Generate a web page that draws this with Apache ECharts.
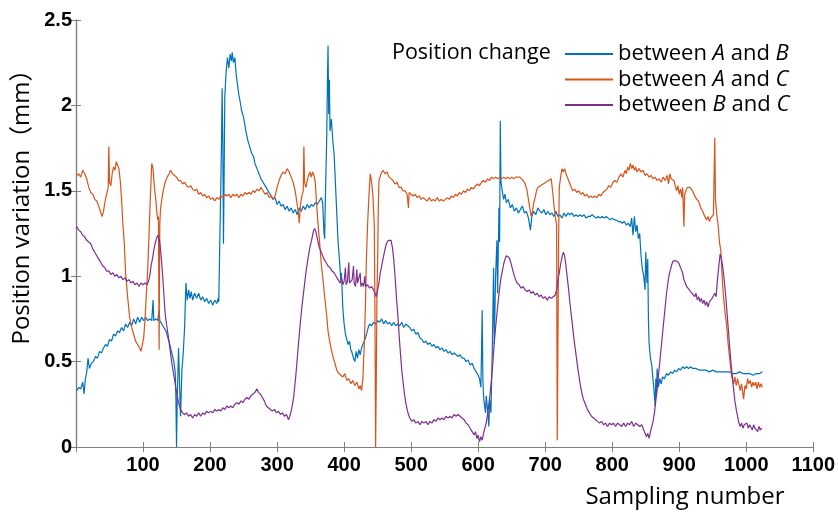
<!DOCTYPE html>
<html>
<head>
<meta charset="utf-8">
<script src="https://cdn.jsdelivr.net/npm/echarts@6/dist/echarts.min.js"></script>
<style>html,body{margin:0;padding:0;background:#fff;}#c{width:838px;height:513px;}</style>
</head>
<body>
<div id="c"></div>
<script>
var seriesNames = ['between A and B', 'between A and C', 'between B and C'];
var legendTitle = 'Position change';
var xName = 'Sampling number';
var yName = 'Position variation（mm）';

var abData = [[1,0.33],[4,0.35],[7,0.34],[10,0.38],[12,0.31],[14,0.40],[16,0.44],[18,0.52],[20,0.46],[23,0.49],[26,0.50],[29,0.53],[32,0.52],[35,0.56],[38,0.55],[41,0.58],[44,0.60],[47,0.59],[50,0.63],[53,0.62],[56,0.66],[59,0.65],[62,0.68],[65,0.67],[68,0.70],[71,0.68],[74,0.72],[77,0.70],[80,0.73],[83,0.71],[86,0.75],[89,0.72],[92,0.76],[95,0.73],[98,0.76],[101,0.74],[104,0.76],[107,0.74],[110,0.75],[113,0.74],[115,0.86],[116,0.74],[119,0.75],[122,0.74],[124,0.80],[125,0.74],[128,0.72],[131,0.70],[134,0.68],[137,0.64],[140,0.60],[143,0.55],[146,0.50],[148,0.44],[149,0.30],[150,0.00],[151,0.28],[153,0.58],[155,0.30],[156,0.18],[158,0.45],[160,0.55],[162,0.70],[164,0.96],[166,0.86],[168,0.92],[170,0.87],[172,0.91],[174,0.86],[177,0.90],[180,0.87],[183,0.90],[186,0.86],[189,0.88],[192,0.85],[195,0.87],[198,0.84],[201,0.86],[204,0.83],[207,0.86],[210,0.84],[212,0.87],[213,0.85],[215,1.30],[217,1.75],[218,2.10],[219,1.80],[220,1.19],[221,1.60],[222,2.05],[224,2.20],[226,2.28],[228,2.22],[230,2.30],[232,2.26],[233,2.31],[235,2.25],[237,2.28],[239,2.18],[241,2.12],[243,2.06],[245,2.02],[247,1.97],[250,1.93],[253,1.86],[256,1.80],[259,1.76],[262,1.72],[265,1.70],[267,1.66],[270,1.63],[273,1.60],[276,1.57],[279,1.55],[282,1.53],[285,1.51],[288,1.49],[291,1.47],[294,1.45],[297,1.46],[300,1.42],[303,1.44],[306,1.41],[309,1.42],[312,1.39],[315,1.41],[318,1.38],[321,1.40],[324,1.37],[327,1.39],[330,1.36],[333,1.40],[336,1.38],[339,1.41],[342,1.39],[345,1.42],[348,1.40],[351,1.42],[354,1.41],[357,1.43],[360,1.42],[363,1.44],[366,1.46],[368,1.43],[370,1.25],[371,1.22],[372,1.45],[374,1.80],[375,2.10],[376,2.35],[377,1.95],[378,2.15],[379,1.85],[381,1.92],[383,1.80],[385,1.72],[387,1.55],[389,1.37],[391,1.20],[393,1.10],[395,0.98],[396,1.02],[398,0.82],[400,0.72],[402,0.66],[404,0.63],[406,0.60],[408,0.62],[410,0.57],[412,0.55],[414,0.52],[416,0.50],[418,0.56],[420,0.52],[422,0.57],[424,0.54],[426,0.58],[428,0.60],[430,0.61],[432,0.64],[434,0.67],[436,0.70],[438,0.72],[441,0.71],[444,0.73],[447,0.72],[450,0.74],[453,0.73],[456,0.75],[459,0.72],[462,0.74],[465,0.72],[468,0.73],[471,0.71],[474,0.73],[477,0.71],[480,0.72],[483,0.71],[486,0.73],[489,0.70],[492,0.72],[495,0.71],[498,0.70],[501,0.68],[504,0.69],[507,0.66],[510,0.67],[513,0.64],[516,0.63],[519,0.61],[522,0.62],[525,0.60],[528,0.61],[531,0.59],[534,0.60],[537,0.58],[540,0.59],[543,0.57],[546,0.58],[549,0.56],[552,0.57],[555,0.55],[558,0.56],[561,0.54],[564,0.55],[567,0.54],[570,0.53],[573,0.54],[576,0.52],[579,0.52],[582,0.50],[585,0.51],[588,0.48],[591,0.49],[594,0.46],[597,0.44],[600,0.42],[602,0.40],[604,0.35],[605,0.55],[606,0.80],[607,0.40],[608,0.30],[609,0.26],[611,0.20],[612,0.30],[614,0.22],[616,0.12],[617,0.28],[619,0.20],[621,0.55],[623,1.05],[624,0.60],[626,1.00],[628,1.21],[629,0.90],[631,1.40],[632,1.20],[633,1.91],[634,1.55],[636,1.50],[638,1.45],[640,1.48],[642,1.43],[645,1.45],[648,1.40],[651,1.42],[654,1.38],[657,1.40],[660,1.37],[663,1.39],[666,1.41],[669,1.37],[672,1.38],[675,1.34],[678,1.27],[680,1.35],[683,1.38],[686,1.36],[689,1.40],[692,1.38],[695,1.37],[698,1.39],[701,1.36],[704,1.38],[707,1.36],[710,1.37],[713,1.35],[716,1.38],[719,1.35],[722,1.36],[725,1.34],[728,1.37],[731,1.35],[734,1.37],[737,1.36],[740,1.37],[743,1.35],[746,1.36],[749,1.35],[752,1.36],[755,1.35],[758,1.36],[761,1.34],[764,1.35],[767,1.35],[770,1.36],[773,1.35],[776,1.34],[779,1.35],[782,1.34],[785,1.35],[788,1.34],[791,1.35],[794,1.34],[797,1.33],[800,1.34],[803,1.33],[806,1.33],[809,1.32],[812,1.32],[815,1.31],[818,1.32],[821,1.30],[824,1.31],[827,1.29],[829,1.34],[831,1.24],[833,1.35],[835,1.26],[837,1.30],[839,1.22],[841,1.25],[843,1.12],[845,1.04],[847,1.00],[849,0.92],[850,1.14],[852,0.96],[853,1.10],[854,0.75],[855,0.61],[857,0.52],[859,0.48],[860,0.43],[862,0.35],[864,0.24],[865,0.40],[866,0.30],[867,0.46],[869,0.35],[871,0.40],[873,0.37],[875,0.41],[878,0.40],[881,0.43],[884,0.42],[887,0.44],[890,0.43],[893,0.45],[896,0.44],[899,0.46],[902,0.45],[905,0.47],[908,0.46],[911,0.47],[914,0.46],[917,0.47],[920,0.46],[925,0.46],[930,0.45],[935,0.45],[940,0.45],[945,0.44],[950,0.45],[955,0.44],[960,0.44],[965,0.44],[970,0.44],[975,0.44],[980,0.43],[985,0.43],[990,0.44],[995,0.43],[1000,0.43],[1005,0.43],[1010,0.42],[1015,0.43],[1020,0.43],[1024,0.44]];

var acData = [[1,1.59],[4,1.60],[7,1.58],[10,1.62],[13,1.60],[16,1.57],[19,1.52],[22,1.49],[25,1.48],[28,1.45],[31,1.44],[34,1.41],[37,1.37],[39,1.35],[41,1.38],[43,1.43],[45,1.47],[47,1.50],[48,1.52],[49,1.76],[50,1.55],[52,1.53],[54,1.60],[56,1.64],[58,1.62],[60,1.67],[62,1.68],[64,1.63],[66,1.56],[68,1.45],[70,1.30],[72,1.20],[74,1.02],[77,0.88],[80,0.76],[83,0.70],[86,0.66],[89,0.62],[92,0.60],[95,0.58],[97,0.56],[99,0.60],[101,0.64],[103,0.75],[105,0.90],[107,1.04],[109,1.25],[111,1.47],[113,1.66],[115,1.63],[117,1.52],[119,1.45],[121,1.36],[122,1.33],[123,1.35],[124,0.57],[125,1.30],[126,1.39],[128,1.45],[130,1.50],[133,1.55],[136,1.58],[139,1.60],[141,1.62],[144,1.60],[147,1.59],[150,1.58],[153,1.56],[156,1.56],[159,1.54],[162,1.55],[165,1.53],[168,1.52],[171,1.53],[174,1.51],[177,1.50],[180,1.51],[183,1.48],[186,1.49],[189,1.47],[192,1.48],[195,1.46],[198,1.47],[201,1.45],[204,1.46],[207,1.44],[210,1.46],[213,1.45],[216,1.47],[219,1.46],[222,1.48],[225,1.47],[228,1.48],[231,1.46],[234,1.48],[237,1.47],[240,1.48],[243,1.46],[246,1.48],[249,1.47],[252,1.49],[255,1.48],[258,1.49],[261,1.48],[264,1.50],[267,1.49],[270,1.51],[273,1.50],[276,1.52],[279,1.50],[282,1.48],[285,1.49],[288,1.46],[291,1.47],[294,1.45],[297,1.47],[300,1.52],[303,1.56],[306,1.59],[309,1.61],[312,1.60],[315,1.63],[318,1.61],[321,1.58],[324,1.55],[327,1.50],[330,1.42],[332,1.36],[333,1.31],[335,1.42],[337,1.47],[339,1.50],[340,1.76],[341,1.55],[343,1.52],[345,1.56],[347,1.59],[349,1.61],[351,1.58],[353,1.61],[355,1.59],[357,1.55],[359,1.42],[361,1.31],[363,1.22],[366,1.07],[369,0.96],[371,0.88],[374,0.77],[376,0.68],[378,0.63],[381,0.57],[384,0.52],[387,0.48],[389,0.45],[392,0.43],[395,0.42],[398,0.41],[401,0.43],[404,0.39],[407,0.40],[410,0.37],[413,0.39],[416,0.36],[419,0.38],[422,0.34],[424,0.36],[426,0.33],[428,0.40],[430,0.59],[432,0.85],[433,1.07],[435,1.30],[437,1.47],[439,1.60],[441,1.55],[443,1.47],[445,1.30],[446,0.80],[447,0.00],[448,0.40],[449,0.90],[450,1.07],[451,1.40],[452,1.56],[455,1.60],[458,1.62],[461,1.60],[464,1.61],[467,1.58],[470,1.57],[473,1.56],[476,1.54],[479,1.55],[482,1.52],[485,1.52],[488,1.50],[491,1.50],[494,1.48],[496,1.40],[497,1.49],[500,1.48],[503,1.47],[506,1.48],[509,1.46],[512,1.47],[515,1.45],[518,1.46],[521,1.45],[524,1.44],[527,1.46],[530,1.44],[533,1.45],[536,1.44],[539,1.46],[542,1.44],[545,1.45],[548,1.44],[551,1.45],[554,1.46],[557,1.45],[560,1.47],[563,1.46],[566,1.48],[569,1.47],[572,1.49],[575,1.48],[578,1.50],[581,1.49],[584,1.51],[587,1.50],[590,1.52],[593,1.51],[596,1.53],[599,1.54],[602,1.53],[605,1.55],[608,1.56],[611,1.55],[614,1.57],[617,1.56],[620,1.58],[623,1.57],[626,1.58],[629,1.57],[632,1.58],[635,1.57],[638,1.58],[641,1.57],[644,1.58],[647,1.57],[650,1.58],[653,1.57],[656,1.58],[659,1.58],[662,1.58],[665,1.57],[667,1.56],[669,1.55],[671,1.53],[673,1.50],[675,1.45],[677,1.40],[679,1.35],[681,1.38],[683,1.43],[685,1.46],[687,1.50],[689,1.52],[691,1.51],[693,1.53],[695,1.52],[697,1.54],[699,1.53],[701,1.55],[703,1.54],[705,1.56],[707,1.55],[709,1.57],[711,1.50],[713,1.42],[715,1.35],[717,1.30],[718,0.04],[719,0.60],[720,1.20],[721,1.52],[723,1.58],[725,1.63],[727,1.61],[729,1.63],[731,1.60],[733,1.58],[735,1.56],[737,1.54],[739,1.52],[741,1.50],[744,1.51],[747,1.49],[750,1.50],[753,1.48],[756,1.49],[759,1.47],[762,1.48],[765,1.46],[768,1.47],[771,1.46],[774,1.47],[777,1.46],[780,1.48],[783,1.47],[786,1.49],[789,1.50],[792,1.51],[795,1.53],[798,1.52],[801,1.55],[804,1.56],[807,1.55],[810,1.58],[813,1.60],[816,1.58],[819,1.62],[821,1.60],[823,1.64],[825,1.62],[827,1.66],[829,1.63],[831,1.65],[833,1.62],[835,1.64],[837,1.61],[840,1.63],[843,1.61],[846,1.62],[849,1.59],[852,1.60],[855,1.58],[858,1.59],[861,1.57],[864,1.58],[867,1.56],[870,1.57],[873,1.55],[876,1.58],[879,1.56],[882,1.59],[884,1.54],[886,1.60],[888,1.57],[890,1.58],[892,1.56],[894,1.53],[896,1.50],[898,1.53],[900,1.48],[902,1.51],[904,1.46],[905,1.52],[907,1.29],[908,1.48],[910,1.50],[912,1.52],[914,1.53],[916,1.52],[918,1.53],[920,1.50],[923,1.47],[926,1.45],[929,1.44],[932,1.40],[935,1.38],[938,1.35],[941,1.33],[943,1.35],[945,1.32],[947,1.34],[949,1.33],[951,1.36],[953,1.81],[954,1.45],[956,1.36],[958,1.30],[960,1.20],[962,1.15],[964,1.00],[966,0.88],[968,0.80],[971,0.70],[973,0.60],[976,0.49],[978,0.42],[981,0.37],[983,0.41],[985,0.36],[987,0.40],[989,0.39],[991,0.33],[993,0.37],[995,0.31],[996,0.28],[998,0.36],[1000,0.34],[1002,0.40],[1004,0.37],[1006,0.39],[1008,0.35],[1010,0.38],[1012,0.36],[1014,0.38],[1016,0.34],[1018,0.38],[1020,0.35],[1022,0.37],[1024,0.35]];

var bcData = [[1,1.29],[4,1.27],[7,1.26],[10,1.24],[13,1.23],[16,1.21],[19,1.20],[22,1.19],[25,1.16],[28,1.14],[31,1.12],[34,1.10],[37,1.08],[40,1.06],[43,1.05],[46,1.03],[49,1.03],[52,1.01],[55,1.02],[58,1.00],[61,1.01],[64,0.99],[67,1.00],[70,0.98],[73,0.99],[76,0.97],[79,0.98],[82,0.96],[85,0.97],[88,0.95],[91,0.96],[94,0.94],[97,0.96],[100,0.95],[103,0.96],[106,0.95],[108,0.97],[110,1.00],[112,1.06],[114,1.10],[116,1.15],[118,1.19],[120,1.22],[122,1.24],[123,1.25],[125,1.20],[127,1.12],[129,1.02],[131,0.90],[133,0.78],[135,0.72],[138,0.64],[140,0.58],[143,0.49],[146,0.42],[148,0.37],[150,0.32],[153,0.26],[156,0.22],[159,0.20],[162,0.19],[165,0.20],[168,0.18],[171,0.19],[174,0.17],[177,0.19],[180,0.18],[183,0.20],[186,0.18],[189,0.20],[192,0.19],[195,0.21],[198,0.20],[201,0.21],[204,0.20],[207,0.22],[210,0.21],[213,0.22],[216,0.21],[219,0.23],[222,0.22],[225,0.24],[228,0.23],[231,0.24],[234,0.23],[237,0.25],[240,0.26],[243,0.25],[246,0.27],[249,0.26],[252,0.28],[255,0.29],[258,0.28],[261,0.30],[264,0.31],[267,0.32],[270,0.34],[272,0.32],[275,0.31],[278,0.29],[281,0.27],[284,0.24],[287,0.23],[290,0.22],[293,0.21],[296,0.22],[299,0.20],[302,0.21],[305,0.19],[308,0.20],[311,0.18],[314,0.19],[317,0.16],[319,0.18],[321,0.21],[323,0.25],[325,0.30],[328,0.42],[331,0.56],[334,0.70],[337,0.82],[340,0.92],[343,1.02],[346,1.10],[349,1.17],[352,1.22],[354,1.26],[356,1.28],[358,1.26],[360,1.22],[362,1.18],[364,1.16],[367,1.13],[370,1.10],[373,1.08],[376,1.06],[379,1.05],[382,1.03],[385,1.02],[388,1.00],[391,0.98],[394,0.96],[396,0.99],[398,0.95],[400,0.97],[402,1.05],[403,0.95],[405,0.97],[407,1.08],[408,0.96],[410,0.95],[412,0.98],[414,1.06],[415,0.96],[417,0.94],[419,1.04],[420,0.96],[422,0.95],[424,1.02],[425,0.94],[427,0.96],[429,0.94],[431,1.00],[432,0.94],[435,0.95],[438,0.93],[441,0.94],[444,0.92],[446,0.90],[448,0.88],[450,0.92],[452,0.96],[454,1.02],[457,1.08],[460,1.14],[463,1.19],[466,1.21],[468,1.22],[470,1.21],[472,1.17],[474,1.10],[476,1.00],[478,0.88],[480,0.78],[482,0.66],[484,0.55],[486,0.45],[488,0.38],[490,0.31],[492,0.26],[494,0.22],[496,0.19],[498,0.17],[501,0.15],[504,0.16],[507,0.14],[510,0.15],[513,0.13],[516,0.15],[519,0.14],[522,0.15],[525,0.13],[528,0.15],[531,0.14],[534,0.16],[537,0.15],[540,0.17],[543,0.16],[546,0.17],[549,0.16],[552,0.18],[555,0.17],[558,0.18],[561,0.17],[564,0.19],[567,0.18],[570,0.19],[573,0.18],[576,0.17],[579,0.16],[582,0.14],[585,0.13],[588,0.11],[591,0.09],[594,0.07],[596,0.09],[598,0.05],[600,0.07],[602,0.03],[604,0.06],[606,0.04],[608,0.08],[610,0.11],[612,0.14],[614,0.19],[616,0.25],[618,0.32],[620,0.40],[622,0.50],[624,0.61],[626,0.70],[628,0.78],[630,0.86],[632,0.93],[634,0.99],[636,1.03],[638,1.07],[640,1.10],[642,1.12],[644,1.13],[646,1.11],[648,1.09],[650,1.06],[652,1.03],[654,1.00],[656,0.98],[658,0.96],[661,0.95],[664,0.93],[667,0.94],[670,0.92],[673,0.91],[676,0.92],[679,0.90],[682,0.91],[685,0.89],[688,0.90],[691,0.88],[694,0.89],[697,0.87],[700,0.88],[703,0.86],[706,0.88],[709,0.87],[712,0.88],[715,0.89],[717,0.92],[719,0.98],[721,1.02],[723,1.07],[725,1.11],[727,1.14],[729,1.12],[731,1.06],[733,0.99],[735,0.92],[737,0.84],[739,0.77],[741,0.70],[743,0.63],[745,0.57],[747,0.51],[749,0.45],[751,0.40],[753,0.35],[755,0.31],[757,0.28],[760,0.25],[763,0.22],[766,0.20],[769,0.18],[772,0.17],[775,0.16],[778,0.15],[781,0.14],[784,0.15],[787,0.13],[790,0.14],[793,0.12],[796,0.14],[799,0.13],[802,0.14],[805,0.12],[808,0.14],[811,0.13],[814,0.12],[817,0.14],[820,0.12],[823,0.14],[826,0.13],[829,0.15],[832,0.12],[835,0.14],[838,0.13],[841,0.12],[844,0.13],[847,0.10],[849,0.08],[851,0.06],[853,0.08],[855,0.05],[857,0.09],[859,0.12],[861,0.15],[863,0.20],[865,0.27],[867,0.34],[869,0.42],[871,0.50],[873,0.58],[875,0.66],[877,0.74],[879,0.82],[881,0.90],[883,0.96],[885,1.01],[887,1.04],[889,1.07],[891,1.09],[893,1.10],[895,1.09],[897,1.10],[899,1.08],[901,1.06],[903,1.04],[905,1.02],[907,0.98],[909,0.96],[911,0.94],[913,0.95],[915,0.92],[917,0.93],[919,0.90],[921,0.91],[923,0.88],[925,0.90],[927,0.86],[929,0.88],[931,0.85],[933,0.87],[935,0.84],[937,0.86],[939,0.83],[941,0.85],[943,0.82],[945,0.85],[947,0.84],[949,0.87],[951,0.86],[953,0.90],[955,0.88],[957,0.98],[959,1.06],[961,1.13],[963,1.10],[965,1.05],[967,0.98],[969,0.90],[971,0.80],[973,0.70],[975,0.60],[977,0.50],[979,0.42],[981,0.34],[983,0.27],[985,0.22],[987,0.18],[989,0.14],[991,0.12],[993,0.14],[995,0.11],[997,0.13],[999,0.12],[1001,0.14],[1003,0.11],[1005,0.13],[1007,0.12],[1009,0.10],[1011,0.13],[1013,0.11],[1015,0.12],[1017,0.09],[1019,0.12],[1021,0.10],[1023,0.11]];

var colors = ['#0072BD', '#D95319', '#7E2F8E'];
var chart = echarts.init(document.getElementById('c'), null, {renderer: 'canvas'});
var axisCol = '#808080';
var labelFont = {color: '#000', fontFamily: 'Liberation Sans, Arial, sans-serif', fontWeight: 'bold', fontSize: 20};
function mkSeries(name, data, color) {
  return {name: name, type: 'line', data: data, symbol: 'none', showSymbol: false,
    lineStyle: {color: color, width: 1.2}, itemStyle: {color: color}, animation: false, z: 3};
}
chart.setOption({
  animation: false,
  color: colors,
  grid: {left: 76, right: 23, top: 20, bottom: 66, containLabel: false},
  title: {text: legendTitle, left: 387, top: 37, textStyle: {fontFamily: 'Open Sans, Noto Sans, sans-serif', fontWeight: 'normal', fontSize: 21.5, color: '#000'}},
  legend: {
    orient: 'vertical', left: 560, top: 38, itemWidth: 48, itemHeight: 2, itemGap: 3.5,
    icon: 'rect',
    data: seriesNames,
    formatter: function (n) {
      var p = n.split(' ');
      return '{n|' + p[0] + ' }{i|' + p[1] + '}{n| ' + p[2] + ' }{i|' + p[3] + '}';
    },
    textStyle: {
      lineHeight: 21,
      rich: {
        n: {fontFamily: 'Open Sans, Noto Sans, sans-serif', fontSize: 22, lineHeight: 21, color: '#000'},
        i: {fontFamily: 'Open Sans, Noto Sans, sans-serif', fontSize: 22, lineHeight: 21, fontStyle: 'italic', color: '#000'}
      }
    }
  },
  xAxis: [{
    type: 'value', min: 0, max: 1100, interval: 100, position: 'bottom',
    axisLine: {show: true, lineStyle: {color: axisCol, width: 1.2}},
    axisTick: {show: true, inside: true, length: 5, lineStyle: {color: axisCol}},
    splitLine: {show: false},
    axisLabel: Object.assign({margin: 8, formatter: function (v) { return v === 0 ? '' : String(v); }}, labelFont)
  }, {
    type: 'value', min: 0, max: 1100, interval: 100, position: 'top',
    axisLine: {show: true, lineStyle: {color: axisCol, width: 1.2}},
    axisTick: {show: true, inside: true, length: 5, lineStyle: {color: axisCol}},
    splitLine: {show: false}, axisLabel: {show: false}
  }],
  yAxis: [{
    type: 'value', min: 0, max: 2.5, interval: 0.5, position: 'left',
    axisLine: {show: true, lineStyle: {color: axisCol, width: 1.2}},
    axisTick: {show: true, inside: true, length: 5, lineStyle: {color: axisCol}},
    splitLine: {show: false},
    axisLabel: Object.assign({margin: 4}, labelFont)
  }, {
    type: 'value', min: 0, max: 2.5, interval: 0.5, position: 'right',
    axisLine: {show: true, lineStyle: {color: axisCol, width: 1.2}},
    axisTick: {show: true, inside: true, length: 5, lineStyle: {color: axisCol}},
    splitLine: {show: false}, axisLabel: {show: false}
  }],
  graphic: [
    {type: 'text', x: 685, y: 497, style: {text: xName, textAlign: 'center', textVerticalAlign: 'middle', fontFamily: 'Open Sans, Noto Sans, sans-serif', fontSize: 24, fill: '#000'}},
    {type: 'text', x: 22, y: 201, rotation: Math.PI / 2, style: {text: yName, textAlign: 'center', textVerticalAlign: 'middle', fontFamily: 'Open Sans, Noto Sans CJK SC, sans-serif', fontSize: 24, fill: '#000'}}
  ],
  series: [
    mkSeries(seriesNames[0], abData, colors[0]),
    mkSeries(seriesNames[1], acData, colors[1]),
    mkSeries(seriesNames[2], bcData, colors[2])
  ]
});
</script>
</body>
</html>
